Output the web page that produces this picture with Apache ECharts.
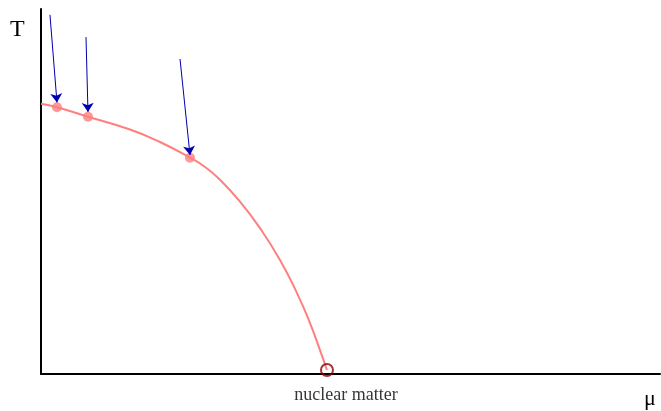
<!DOCTYPE html>
<html>
<head>
<meta charset="utf-8">
<script src="https://cdn.jsdelivr.net/npm/echarts@6/dist/echarts.min.js"></script>
<style>html,body{margin:0;padding:0;background:#fff}#c{width:661px;height:411px}</style>
</head>
<body>
<div id="c"></div>
<script>
// Phase boundary curve (mu, T) in arbitrary units
const curveMu = [0, 2.58, 7.59, 14.38, 19.22, 24.07, 26.49, 28.92, 32.15, 35.38, 38.61, 41.36, 43.46, 45.07, 46.2];
const curveT  = [74.05, 73.07, 70.49, 66.99, 63.56, 59.26, 56.72, 53.2, 47.22, 39.95, 31.23, 22.15, 13.96, 6.55, 1.1];
// Freeze-out points on the curve
const pointMu = [2.58, 7.59, 24.07];
const pointT  = [73.07, 70.49, 59.26];
// Arrow start points (end at the freeze-out points)
const arrowStartMu = [1.45, 7.27, 22.46];
const arrowStartT  = [98.4, 92.3, 86.3];
const arrowEndT    = [74.4, 71.8, 60.0];
// Nuclear matter point
const nuclearMu = [46.2];
const nuclearT  = [1.1];
const nuclearLabel = 'nuclear matter';

const chart = echarts.init(document.getElementById('c'), null, {renderer: 'canvas'});
const serif = 'Liberation Serif';
const option = {
  animation: false,
  backgroundColor: '#fff',
  grid: {left: 41, right: 1, top: 9, bottom: 37},
  xAxis: {
    type: 'value', min: 0, max: 100,
    axisLine: {show: true, onZero: false, lineStyle: {color: '#000', width: 2}},
    axisTick: {show: false}, axisLabel: {show: false}, splitLine: {show: false}
  },
  yAxis: {
    type: 'value', min: 0, max: 100,
    axisLine: {show: true, onZero: false, lineStyle: {color: '#000', width: 2}},
    axisTick: {show: false}, axisLabel: {show: false}, splitLine: {show: false}
  },
  graphic: [
    {type: 'text', left: 10, top: 18, style: {text: 'T', font: '24px "Liberation Serif"', fill: '#000'}},
    {type: 'text', left: 644, top: 388, style: {text: 'μ', font: '22px "Liberation Serif"', fill: '#000'}}
  ],
  series: [
    {
      type: 'line', smooth: 0.5, showSymbol: false,
      data: curveMu.map((m, i) => [m, curveT[i]]),
      lineStyle: {color: '#ff7f7f', width: 2},
      z: 2
    },
    {
      type: 'scatter', symbolSize: 10,
      data: pointMu.map((m, i) => [m, pointT[i]]),
      itemStyle: {color: '#ff8080'},
      z: 3
    },
    {
      type: 'lines', coordinateSystem: 'cartesian2d',
      data: arrowStartMu.map((m, i) => ({coords: [[m, arrowStartT[i]], [pointMu[i], arrowEndT[i]]]})),
      lineStyle: {color: '#0000b0', width: 1, opacity: 1},
      symbol: ['none', 'arrow'], symbolSize: [0, 9],
      z: 4
    },
    {
      type: 'scatter', symbol: 'circle', symbolSize: 12,
      data: nuclearMu.map((m, i) => [m, nuclearT[i]]),
      itemStyle: {color: 'rgba(0,0,0,0)', borderColor: '#8b0000', borderWidth: 2},
      label: {show: true, position: 'bottom', distance: 9, offset: [19, 0], formatter: nuclearLabel,
              fontFamily: serif, fontSize: 18, color: '#000'},
      z: 5
    }
  ]
};
chart.setOption(option);
</script>
</body>
</html>
